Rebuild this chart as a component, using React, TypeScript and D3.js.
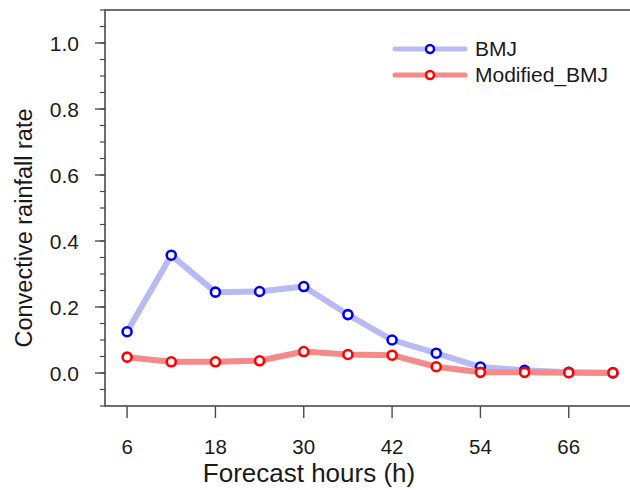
import * as d3 from "d3";
import { useEffect } from "react";

// forecast hours and convective rainfall rates
const hours = [6, 12, 18, 24, 30, 36, 42, 48, 54, 60, 66, 72];
const bmj = [0.125, 0.357, 0.245, 0.247, 0.262, 0.177, 0.1, 0.06, 0.018, 0.008, 0.002, 0.0];
const modifiedBmj = [0.048, 0.034, 0.034, 0.037, 0.065, 0.056, 0.054, 0.019, 0.002, 0.002, 0.001, 0.001];
const xTicks = [6, 18, 30, 42, 54, 66];
const yTicks = [0, 0.2, 0.4, 0.6, 0.8, 1.0];
const yMinor = d3.range(-0.1, 1.1001, 0.05);

const series = [
    { name: "BMJ", values: bmj, line: "#b9b9f3", mark: "#0000f0" },
    { name: "Modified_BMJ", values: modifiedBmj, line: "#f58a8a", mark: "#ff0000" },
];

const FONT = "'Liberation Sans', Arial, Helvetica, sans-serif";

const App = () => {
    useEffect(() => {
        document.body.style.margin = "0";
    }, []);

    const width = 630;
    const height = 490;
    const x = d3.scaleLinear().domain([3, 75]).range([105, 635]);
    const y = d3.scaleLinear().domain([-0.1, 1.1]).range([406, 10]);

    const line = d3
        .line<number>()
        .x((d, i) => x(hours[i]))
        .y((d) => y(d));

    const axisColor = "#4a4a4a";
    const textColor = "#1a1a1a";

    return (
        <svg width={width} height={height} style={{ display: "block", background: "#fff" }}>
            {/* frame */}
            <rect x={x(3)} y={y(1.1)} width={x(75) - x(3)} height={y(-0.1) - y(1.1)}
                fill="none" stroke={axisColor} strokeWidth={1.6} />

            {/* y minor ticks */}
            {yMinor.map((v, i) => (
                <line key={"ym" + i} x1={x(3) - 5} x2={x(3)} y1={y(v)} y2={y(v)}
                    stroke={axisColor} strokeWidth={1.2} />
            ))}
            {/* y major ticks and labels */}
            {yTicks.map((v) => (
                <g key={"y" + v}>
                    <line x1={x(3) - 10} x2={x(3)} y1={y(v)} y2={y(v)} stroke={axisColor} strokeWidth={1.4} />
                    <text x={79} y={y(v) + 7.5} textAnchor="end" fontFamily={FONT} fontSize={21} fill={textColor}>
                        {v.toFixed(1)}
                    </text>
                </g>
            ))}

            {/* x ticks and labels */}
            {xTicks.map((h) => (
                <g key={"x" + h}>
                    <line x1={x(h)} x2={x(h)} y1={y(-0.1)} y2={y(-0.1) + 12} stroke={axisColor} strokeWidth={1.4} />
                    <text x={x(h)} y={454} textAnchor="middle" fontFamily={FONT} fontSize={20.5} fill={textColor}>
                        {h}
                    </text>
                </g>
            ))}

            {/* axis titles */}
            <text x={309} y={482} textAnchor="middle" fontFamily={FONT} fontSize={26} fill={textColor}>
                Forecast hours (h)
            </text>
            <text transform={`translate(32,${228}) rotate(-90)`} textAnchor="middle" fontFamily={FONT}
                fontSize={23.5} fill={textColor}>
                Convective rainfall rate
            </text>

            {/* series */}
            {series.map((s) => (
                <g key={s.name}>
                    <path d={line(s.values) || ""} fill="none" stroke={s.line} strokeWidth={6}
                        strokeLinejoin="round" strokeLinecap="round" />
                    {s.values.map((v, i) => (
                        <circle key={i} cx={x(hours[i])} cy={y(v)} r={4.5} fill="#fff"
                            stroke={s.mark} strokeWidth={2.6} />
                    ))}
                </g>
            ))}

            {/* legend */}
            {series.map((s, i) => {
                const ly = 49 + i * 26;
                return (
                    <g key={"lg" + s.name}>
                        <line x1={395} x2={465} y1={ly} y2={ly} stroke={s.line} strokeWidth={5} strokeLinecap="round" />
                        <circle cx={430} cy={ly} r={4} fill="#fff" stroke={s.mark} strokeWidth={2.4} />
                        <text x={475} y={ly + 7} fontFamily={FONT} fontSize={21} fill={textColor}>
                            {s.name}
                        </text>
                    </g>
                );
            })}
        </svg>
    );
};

export default App;
